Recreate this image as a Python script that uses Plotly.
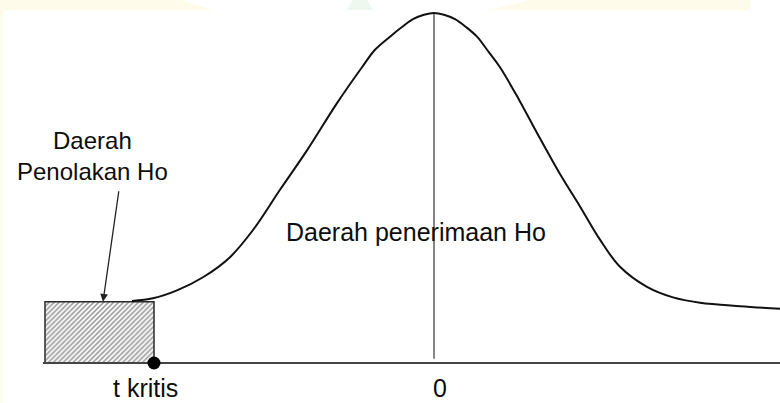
import plotly.graph_objects as go

# Sketch of a left-tailed t-test: the acceptance region under the curve
# and the rejection region beyond the critical value.

# Curve points (t, density) — the hand-drawn bell, slightly wider on the left
curve_t = [-3.02, -2.81, -2.57, -2.31, -2.04, -1.81, -1.54, -1.27, -0.97, -0.72,
           -0.59, -0.44, -0.32, -0.21, -0.10, 0.0, 0.10, 0.21, 0.32, 0.43,
           0.55, 0.66, 0.85, 1.03, 1.26, 1.46, 1.66, 1.86, 2.13, 2.39,
           2.66, 3.06, 3.46]
curve_d = [0.071, 0.074, 0.083, 0.098, 0.121, 0.152, 0.198, 0.243, 0.297, 0.338,
           0.358, 0.373, 0.384, 0.393, 0.398, 0.400, 0.398, 0.393, 0.384, 0.373,
           0.355, 0.338, 0.301, 0.263, 0.216, 0.179, 0.141, 0.110, 0.087, 0.075,
           0.069, 0.065, 0.062]

t_kritis = -2.8
t_zero = 0.0
peak_density = 0.400
reject_left = -3.89
reject_height = 0.07
axis_left = -3.91
axis_right = 3.46

labels = {
    "reject": "Daerah<br>Penolakan Ho",
    "accept": "Daerah penerimaan Ho",
    "crit": "t kritis",
    "zero": "0",
}

FONT = "Arial, Liberation Sans, sans-serif"
INK = "#0d0d0d"

fig = go.Figure()

# rejection region: hatched box left of the critical value
fig.add_trace(go.Scatter(
    x=[reject_left, t_kritis, t_kritis, reject_left, reject_left],
    y=[0, 0, reject_height, reject_height, 0],
    mode="lines", fill="toself",
    fillcolor="rgba(0,0,0,0)",
    fillpattern=dict(shape="/", size=3.5, solidity=0.45,
                     fgcolor="#2e2e2e", bgcolor="white"),
    line=dict(color="#2a2a2a", width=1.5),
    hoverinfo="skip", showlegend=False,
))

# horizontal axis line
fig.add_trace(go.Scatter(
    x=[axis_left, axis_right], y=[0, 0], mode="lines",
    line=dict(color="#444444", width=2),
    hoverinfo="skip", showlegend=False,
))

# centre line at t = 0
fig.add_trace(go.Scatter(
    x=[t_zero, t_zero], y=[0.005, peak_density], mode="lines",
    line=dict(color="#444444", width=1.3),
    hoverinfo="skip", showlegend=False,
))

# the bell curve
fig.add_trace(go.Scatter(
    x=curve_t, y=curve_d, mode="lines",
    line=dict(color="#111111", width=2, shape="spline", smoothing=1.0),
    hoverinfo="skip", showlegend=False,
))

# critical value marker
fig.add_trace(go.Scatter(
    x=[t_kritis], y=[0], mode="markers",
    marker=dict(color="black", size=13, symbol="circle"),
    hoverinfo="skip", showlegend=False,
))

# text labels
fig.add_annotation(x=-3.42, y=0.237, text=labels["reject"], showarrow=False,
                   font=dict(family=FONT, size=24, color=INK),
                   xanchor="center", yanchor="middle", align="center")
fig.add_annotation(x=-0.18, y=0.150, text=labels["accept"], showarrow=False,
                   font=dict(family=FONT, size=25, color=INK),
                   xanchor="center", yanchor="middle")
fig.add_annotation(x=-2.89, y=-0.029, text=labels["crit"], showarrow=False,
                   font=dict(family=FONT, size=25, color=INK),
                   xanchor="center", yanchor="middle")
fig.add_annotation(x=0.06, y=-0.029, text=labels["zero"], showarrow=False,
                   font=dict(family=FONT, size=25, color=INK),
                   xanchor="center", yanchor="middle")

# arrow pointing into the rejection box
fig.add_annotation(x=-3.31, y=reject_height, ax=-3.15, ay=0.198,
                   xref="x", yref="y", axref="x", ayref="y",
                   text="", showarrow=True, arrowhead=2, arrowsize=1.2,
                   arrowwidth=1.3, arrowcolor="#222222")

# faint page decoration along the top and left edge
W, H = 780, 403
deco = [
    ([(0, 0), (180, 0), (213, 10), (0, 10)], "#fffbea"),
    ([(0, 10), (3, 10), (3, 403), (0, 403)], "#fffbea"),
    ([(353, 0), (367, 0), (373, 10), (347, 10)], "#eef7ee"),
    ([(530, 0), (750, 0), (750, 10), (490, 10)], "#fffbea"),
]
for pts, col in deco:
    path = "M " + " L ".join(f"{px / W:.4f},{1 - py / H:.4f}" for px, py in pts) + " Z"
    fig.add_shape(type="path", path=path, xref="paper", yref="paper",
                  fillcolor=col, line=dict(width=0), layer="below")

fig.update_layout(
    width=W, height=H,
    margin=dict(l=0, r=0, t=0, b=0),
    paper_bgcolor="white", plot_bgcolor="white",
    xaxis=dict(range=[-4.34, 3.46], visible=False, fixedrange=True),
    yaxis=dict(range=[-0.0457, 0.4149], visible=False, fixedrange=True),
    showlegend=False,
)

fig.write_html("out.html")
